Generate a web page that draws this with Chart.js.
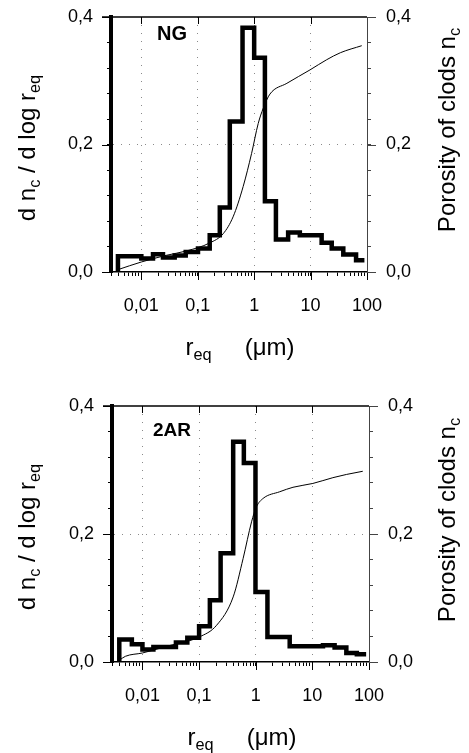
<!DOCTYPE html>
<html>
<head>
<meta charset="utf-8">
<script src="https://cdn.jsdelivr.net/npm/chart.js@4"></script>
<style>
  html, body { margin: 0; padding: 0; background: #fff; }
  #wrap { position: relative; width: 469px; height: 753px; overflow: hidden;
          font-family: "Liberation Sans", Arial, sans-serif; color: #000; }
  canvas { position: absolute; left: 0; }
  .lbl { position: absolute; white-space: nowrap; line-height: 1; }
  .rot { transform: translate(-50%, -50%) rotate(-90deg); }
  .title { font-size: 24px; }
  .panel { font-weight: bold; }
  sub { font-size: 68%; vertical-align: baseline; position: relative; top: 0.32em; }
</style>
</head>
<body>
<div id="wrap">
  <canvas id="chart-ng" width="469" height="376" style="top:0"></canvas>
  <canvas id="chart-2ar" width="469" height="377" style="top:376px"></canvas>

  <div class="lbl panel" style="left:157px;top:23px;font-size:20px">NG</div>
  <div class="lbl panel" style="left:153px;top:420px;font-size:19px">2AR</div>

  <div class="lbl title rot" style="left:27px;top:148px">d n<sub>c</sub> / d log r<sub>eq</sub></div>
  <div class="lbl title rot" style="left:447px;top:130px">Porosity of clods n<sub>c</sub></div>
  <div class="lbl title" style="left:240px;top:335px;transform:translateX(-50%)">r<sub>eq</sub><span style="margin-left:33px">(μm)</span></div>

  <div class="lbl title rot" style="left:27px;top:537px">d n<sub>c</sub> / d log r<sub>eq</sub></div>
  <div class="lbl title rot" style="left:447px;top:520px">Porosity of clods n<sub>c</sub></div>
  <div class="lbl title" style="left:242px;top:725px;transform:translateX(-50%)">r<sub>eq</sub><span style="margin-left:33px">(μm)</span></div>
</div>

<script>
// ── DATA ─────────────────────────────────────────

// NG: histogram bin edges (µm) and dnc/dlog req per bin
const ngEdges = [0.00385, 0.01, 0.0161, 0.0242, 0.039, 0.0612, 0.101, 0.163, 0.246, 0.37,
                 0.622, 1.0, 1.55, 2.43, 4.0, 6.45, 15.7, 23.7, 38, 64, 90];
const ngDensity = [0.0247, 0.021, 0.0278, 0.0226, 0.026, 0.0315, 0.0368, 0.0577, 0.101, 0.236,
                   0.383, 0.336, 0.111, 0.051, 0.062, 0.0577, 0.046, 0.0368, 0.0273, 0.0184];
// NG: cumulative porosity curve
const ngPorR = [0.00385, 0.01, 0.0278, 0.063, 0.163, 0.282, 0.423, 0.638, 0.9, 1.18,
                1.45, 1.9, 3.8, 9.75, 19.3, 33.8, 80.7];
const ngPor = [0.0037, 0.0157, 0.0262, 0.033, 0.0456, 0.06, 0.0865, 0.134, 0.186, 0.233,
               0.257, 0.279, 0.296, 0.317, 0.333, 0.344, 0.355];

// 2AR
const arEdges = [0.0039, 0.0065, 0.01, 0.0156, 0.039, 0.062, 0.1, 0.155, 0.24, 0.40,
                 0.617, 0.99, 1.61, 3.98, 15.4, 24.7, 39.8, 61, 89];
const arDensity = [0.035, 0.0277, 0.0194, 0.0235, 0.0303, 0.038, 0.0559, 0.0966, 0.170, 0.344,
                   0.311, 0.1095, 0.039, 0.0246, 0.0263, 0.0225, 0.0141, 0.012];
const arPorR = [0.0039, 0.005, 0.01, 0.027, 0.1, 0.204, 0.40, 0.6, 0.844, 1.03,
                1.35, 2.65, 4.55, 10.2, 23, 39.8, 77.6];
const arPor = [0.0027, 0.0089, 0.0141, 0.0246, 0.039, 0.0574, 0.1017, 0.162, 0.219, 0.2425,
               0.2556, 0.266, 0.273, 0.279, 0.288, 0.293, 0.298];

// axes
const xMin = 0.0029;
const xMax = 100;
const decades = [0.01, 0.1, 1, 10, 100];
const decadeLabels = ['0,01', '0,1', '1', '10', '100'];
const yTickStep = 0.04;
const yLabelled = [0, 0.2, 0.4];

// ── HELPERS ──────────────────────────────────────

function histPoints(edges, values) {
  const pts = [{ x: edges[0], y: 0 }];
  values.forEach((v, i) => pts.push({ x: edges[i], y: v }));
  pts.push({ x: edges[edges.length - 1], y: values[values.length - 1] });
  return pts;
}

function curvePoints(xs, ys) {
  return xs.map((x, i) => ({ x, y: ys[i] }));
}

function minorLogTicks() {
  const out = [];
  for (let e = -3; e <= 1; e++) {
    for (let m = 1; m <= 9; m++) {
      const v = +(m * Math.pow(10, e)).toPrecision(6);
      if (v >= xMin && v <= xMax) out.push(v);
    }
  }
  out.push(100);
  return out;
}

function isDecade(v) {
  return decades.some(d => Math.abs(v / d - 1) < 1e-6);
}

function isLabelledY(v) {
  return yLabelled.some(d => Math.abs(v - d) < 1e-6);
}

// keep the plot area where the layout puts it, labels may overhang
function noPad(s) {
  s.paddingTop = 0;
  s.paddingBottom = 0;
  s.paddingLeft = 0;
  s.paddingRight = 0;
}

const TICK_FONT = { family: 'Liberation Sans, Arial, sans-serif', size: 18 };

// top frame line + longer major tick marks
const frameTicks = {
  id: 'frameTicks',
  afterDraw(chart) {
    const { ctx, chartArea: a, scales } = chart;
    ctx.save();
    ctx.strokeStyle = '#000';
    ctx.lineWidth = 1.5;
    ctx.beginPath();
    ctx.moveTo(a.left - 9, a.top);
    ctx.lineTo(a.right, a.top);
    ctx.stroke();
    ctx.lineWidth = 1;
    ctx.beginPath();
    decades.forEach(d => {
      const px = Math.round(scales.x.getPixelForValue(d)) + 0.5;
      if (d < 100) { ctx.moveTo(px, a.top); ctx.lineTo(px, a.top + 7); }
      ctx.moveTo(px, a.bottom); ctx.lineTo(px, a.bottom + 8);
    });
    yLabelled.forEach(v => {
      const py = Math.round(scales.y.getPixelForValue(v)) + 0.5;
      ctx.moveTo(a.left - 9, py); ctx.lineTo(a.left, py);
    });
    ctx.stroke();
    ctx.strokeStyle = '#444';
    ctx.beginPath();
    yLabelled.forEach(v => {
      const py = Math.round(scales.y2.getPixelForValue(v)) + 0.5;
      ctx.moveTo(a.right, py); ctx.lineTo(a.right + 9, py);
    });
    ctx.stroke();
    ctx.restore();
  }
};

function makeChart(id, edges, density, porR, por, box) {
  const ctx = document.getElementById(id).getContext('2d');
  return new Chart(ctx, {
    type: 'line',
    data: {
      datasets: [
        {
          data: histPoints(edges, density),
          yAxisID: 'y',
          stepped: true,
          borderColor: '#000',
          borderWidth: 4.5,
          borderJoinStyle: 'miter',
          borderCapStyle: 'butt',
          pointRadius: 0,
          fill: false
        },
        {
          data: curvePoints(porR, por),
          yAxisID: 'y2',
          borderColor: '#000',
          borderWidth: 1,
          cubicInterpolationMode: 'monotone',
          pointRadius: 0,
          fill: false
        }
      ]
    },
    options: {
      responsive: false,
      animation: false,
      layout: { padding: { top: box.top, left: 0, right: 0, bottom: 0 } },
      plugins: { legend: { display: false }, tooltip: { enabled: false } },
      scales: {
        x: {
          type: 'logarithmic',
          min: xMin,
          max: xMax,
          afterBuildTicks: s => { s.ticks = minorLogTicks().map(v => ({ value: v })); },
          afterFit: s => { s.height = box.xHeight; noPad(s); },
          ticks: {
            autoSkip: false,
            maxRotation: 0,
            minRotation: 0,
            padding: 19,
            color: '#000',
            font: TICK_FONT,
            callback: v => {
              const i = decades.findIndex(d => Math.abs(v / d - 1) < 1e-6);
              return i >= 0 ? decadeLabels[i] : '';
            }
          },
          grid: {
            color: c => (c.tick && isDecade(c.tick.value) && c.tick.value < 100) ? '#8a8a8a' : 'rgba(0,0,0,0)',
            lineWidth: 1,
            borderDash: [1, 7],
            tickColor: '#000',
            tickLength: 4,
            tickWidth: 1
          },
          border: { color: '#000', width: 1.5, dash: [1, 7] }
        },
        y: {
          position: 'left',
          min: 0,
          max: 0.4,
          afterFit: s => { s.width = box.left; noPad(s); },
          ticks: {
            stepSize: yTickStep,
            padding: 14,
            color: '#000',
            font: TICK_FONT,
            callback: v => isLabelledY(v) ? v.toFixed(1).replace('.', ',') : ''
          },
          grid: {
            color: c => (c.tick && Math.abs(c.tick.value - 0.2) < 1e-6) ? '#8a8a8a' : 'rgba(0,0,0,0)',
            lineWidth: 1,
            borderDash: [1, 7],
            tickColor: '#000',
            tickLength: 4
          },
          border: { color: '#000', width: 4, dash: [1, 7] }
        },
        y2: {
          position: 'right',
          min: 0,
          max: 0.4,
          afterFit: s => { s.width = box.right; noPad(s); },
          ticks: {
            stepSize: yTickStep,
            padding: 15,
            color: '#000',
            font: TICK_FONT,
            callback: v => isLabelledY(v) ? v.toFixed(1).replace('.', ',') : ''
          },
          grid: {
            drawOnChartArea: false,
            tickColor: '#444',
            tickLength: 4
          },
          border: { color: '#444', width: 1 }
        }
      }
    },
    plugins: [frameTicks]
  });
}

// ── RENDER ───────────────────────────────────────

makeChart('chart-ng', ngEdges, ngDensity, ngPorR, ngPor,
  { top: 17, left: 111, right: 102, xHeight: 104 });
makeChart('chart-2ar', arEdges, arDensity, arPorR, arPor,
  { top: 30, left: 112, right: 100, xHeight: 91 });
</script>
</body>
</html>
